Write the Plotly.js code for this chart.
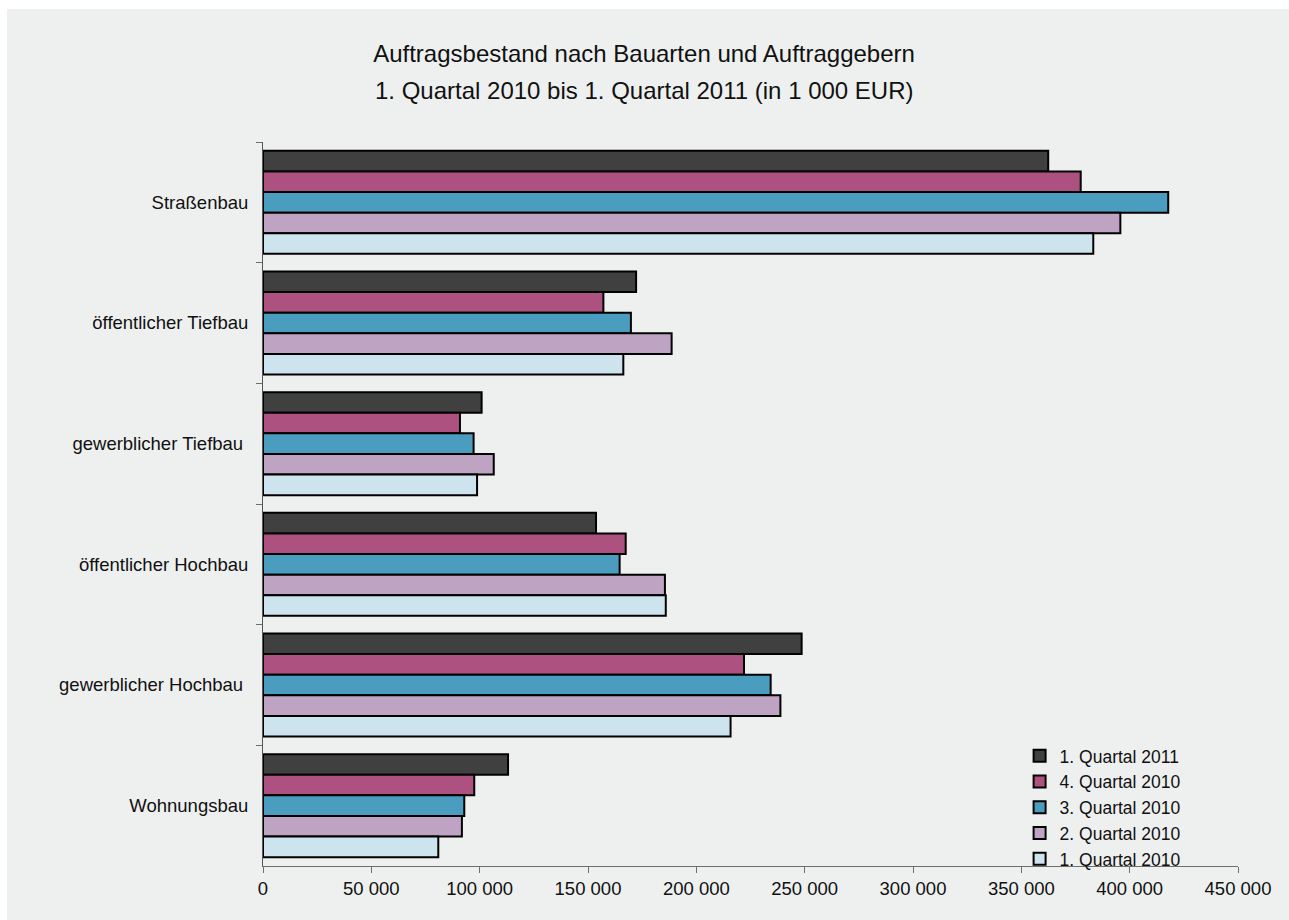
<!DOCTYPE html>
<html>
<head>
<meta charset="utf-8">
<script src="https://cdn.plot.ly/plotly-3.0.1.min.js"></script>
<style>
  html, body { margin: 0; padding: 0; background: #ffffff; }
  #chart { position: absolute; left: 7px; top: 9px; width: 1282px; height: 911px; }
</style>
</head>
<body>
<div id="chart"></div>
<script>
// Categories, top to bottom
const categories = [
  "Straßenbau",
  "öffentlicher Tiefbau",
  "gewerblicher Tiefbau\u00a0",
  "öffentlicher Hochbau",
  "gewerblicher Hochbau\u00a0",
  "Wohnungsbau"
];

// Series names (legend order)
const seriesNames = [
  "1. Quartal 2011",
  "4. Quartal 2010",
  "3. Quartal 2010",
  "2. Quartal 2010",
  "1. Quartal 2010"
];

// Values in 1 000 EUR, per category (same order as categories)
const q1_2011 = [362400, 172200, 100900, 153700, 248600, 113100];
const q4_2010 = [377400, 157100, 90900, 167400, 222000, 97500];
const q3_2010 = [417800, 169800, 97200, 164600, 234300, 92900];
const q2_2010 = [395700, 188600, 106500, 185500, 238800, 91800];
const q1_2010 = [383200, 166300, 98800, 185900, 215800, 80900];

const seriesValues = [q1_2011, q4_2010, q3_2010, q2_2010, q1_2010];
const seriesColors = ["#404040", "#ad5280", "#4b9dc0", "#bea4c2", "#cde3ee"];

const xTickVals = [0, 50000, 100000, 150000, 200000, 250000, 300000, 350000, 400000, 450000];

const titleLine1 = "Auftragsbestand nach Bauarten und Auftraggebern";
const titleLine2 = "1. Quartal 2010 bis 1. Quartal 2011 (in 1 000 EUR)";

const FONT = "Liberation Sans, Arial, Helvetica, sans-serif";

const traces = seriesNames.map((name, i) => ({
  type: "bar",
  orientation: "h",
  name: name,
  y: categories,
  x: seriesValues[i],
  marker: { color: seriesColors[i], line: { color: "#000000", width: 2 } },
  hoverinfo: "x+name"
}));

const layout = {
  width: 1282,
  height: 911,
  paper_bgcolor: "#eef0ef",
  plot_bgcolor: "#eef0ef",
  margin: { l: 256, r: 51, t: 133, b: 54 },
  font: { family: FONT, size: 18.5, color: "#111111" },
  separators: ", ",
  barmode: "group",
  bargap: 0.147,
  bargroupgap: 0,
  showlegend: true,
  title: {
    text: titleLine1,
    font: { family: FONT, size: 24, color: "#111111" },
    x: 0.4969, xanchor: "center",
    y: 0.9506, yanchor: "middle", yref: "container"
  },
  annotations: [{
    text: titleLine2,
    xref: "paper", yref: "paper",
    x: 0.3908, y: 1.0718,
    xanchor: "center", yanchor: "middle",
    showarrow: false,
    font: { family: FONT, size: 24, color: "#111111" }
  }],
  xaxis: {
    range: [0, 450000],
    tickvals: xTickVals,
    tickformat: ",d",
    showgrid: false,
    zeroline: false,
    showline: true,
    linecolor: "#6e6e6e",
    linewidth: 1,
    ticks: "outside",
    ticklen: 6,
    tickcolor: "#6e6e6e",
    tickfont: { family: FONT, size: 18.5, color: "#111111" },
    fixedrange: true
  },
  yaxis: {
    type: "category",
    autorange: "reversed",
    showgrid: false,
    zeroline: false,
    showline: true,
    linecolor: "#555555",
    linewidth: 1,
    ticks: "outside",
    tickson: "boundaries",
    ticklen: 6,
    tickcolor: "#6e6e6e",
    ticklabelstandoff: 10,
    tickfont: { family: FONT, size: 18.5, color: "#111111" },
    fixedrange: true
  },
  legend: {
    x: 0.776, xanchor: "left",
    y: 0.177, yanchor: "top",
    bgcolor: "rgba(0,0,0,0)",
    font: { family: FONT, size: 17.5, color: "#111111" },
    traceorder: "normal"
  }
};

Plotly.newPlot("chart", traces, layout, { displayModeBar: false, staticPlot: true });
</script>
</body>
</html>
